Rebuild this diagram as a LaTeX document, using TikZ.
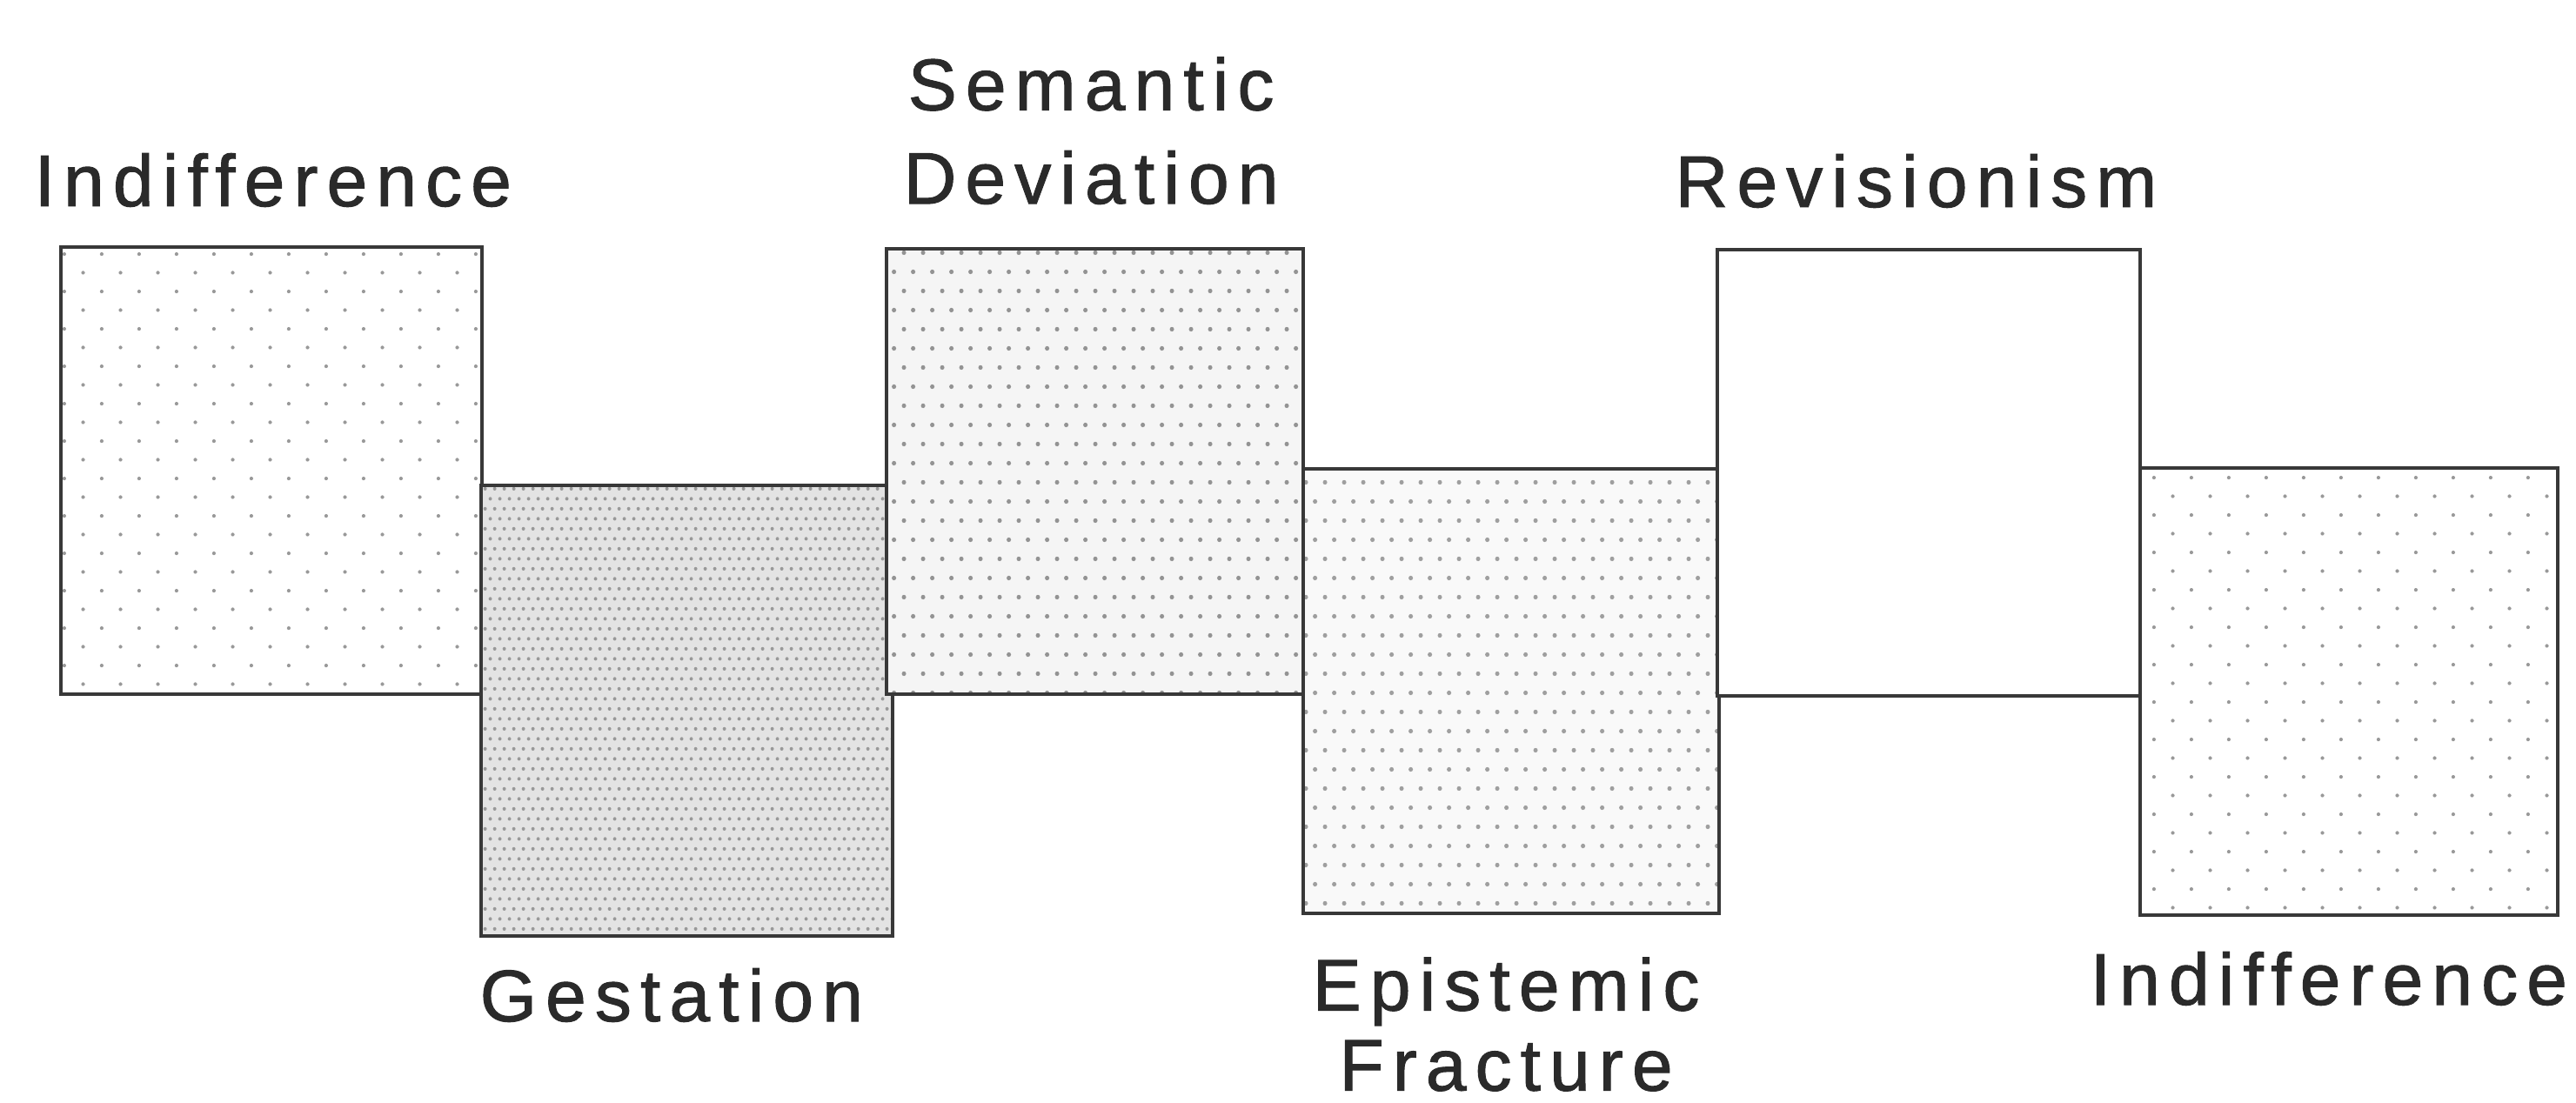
\documentclass[tikz,border=0pt]{standalone}
\usepackage{fontspec}
\newfontfamily\lblfont{Liberation Sans}[LetterSpace=12,FakeBold=1.2]
\usetikzlibrary{patterns}
\pgfdeclarepatternformonly{sparsedots}{\pgfpointorigin}{\pgfpoint{12.2pt}{12.2pt}}{\pgfpoint{12.2pt}{12.2pt}}{%
  \pgfpathcircle{\pgfpoint{3pt}{3pt}}{0.6pt}%
  \pgfpathcircle{\pgfpoint{9.1pt}{9.1pt}}{0.6pt}%
  \pgfusepath{fill}}
\pgfdeclarepatternformonly{mediumdots}{\pgfpointorigin}{\pgfpoint{6.26pt}{12.5pt}}{\pgfpoint{6.26pt}{12.5pt}}{%
  \pgfpathcircle{\pgfpoint{1.5pt}{3pt}}{0.75pt}%
  \pgfpathcircle{\pgfpoint{4.63pt}{9.25pt}}{0.75pt}%
  \pgfusepath{fill}}
\pgfdeclarepatternformonly{densedots}{\pgfpointorigin}{\pgfpoint{3.13pt}{6.54pt}}{\pgfpoint{3.13pt}{6.54pt}}{%
  \pgfpathcircle{\pgfpoint{0.8pt}{1.6pt}}{0.6pt}%
  \pgfpathcircle{\pgfpoint{2.365pt}{4.87pt}}{0.6pt}%
  \pgfusepath{fill}}
\definecolor{edge}{HTML}{383838}
\definecolor{ink}{HTML}{2A2A2A}
\tikzset{
  stage/.style={draw=edge, line width=1.4pt, rectangle, inner sep=0pt, outer sep=0pt},
  sparse/.style={stage, pattern=sparsedots, pattern color=gray!80},
  medium/.style={stage, preaction={fill=gray!8}, pattern=mediumdots, pattern color=gray!85},
  lighter/.style={stage, preaction={fill=gray!5}, pattern=mediumdots, pattern color=gray!75},
  dense/.style={stage, preaction={fill=gray!22}, pattern=densedots, pattern color=gray!80},
  plain/.style={stage, fill=white},
  lbl/.style={font=\lblfont\fontsize{23.9}{30.6}\selectfont, text=ink, inner sep=0pt, align=center},
  tightlbl/.style={lbl, font=\lblfont\fontsize{23.9}{26.2}\selectfont}
}
\begin{document}
\begin{tikzpicture}
\path[use as bounding box, fill=white] (0,0) rectangle (29.61,-12.68);
% boxes
\node[sparse, minimum width=4.84cm, minimum height=5.14cm] (b1) at (3.12,-5.41) {};
\node[dense,  minimum width=4.73cm, minimum height=5.18cm] (b2) at (7.895,-8.17) {};
\node[medium, minimum width=4.79cm, minimum height=5.12cm] (b3) at (12.585,-5.42) {};
\node[lighter,minimum width=4.78cm, minimum height=5.11cm] (b4) at (17.37,-7.945) {};
\node[plain,  minimum width=4.86cm, minimum height=5.13cm] (b5) at (22.17,-5.435) {};
\node[sparse, minimum width=4.80cm, minimum height=5.14cm] (b6) at (27.00,-7.95) {};
% labels
\node[lbl, anchor=base west] (l1) at (0.39,-2.37) {Indifference};
\node[lbl, anchor=base west] (l2) at (5.51,-11.74) {Gestation};
\node[lbl, anchor=north west] (l3) at (10.38,-0.65) {Semantic\\Deviation};
\node[tightlbl, anchor=north west] (l4) at (15.08,-11.00) {Epistemic\\Fracture};
\node[lbl, anchor=base west] (l5) at (19.25,-2.38) {Revisionism};
\node[lbl, anchor=base west] (l6) at (24.02,-11.55) {Indifference};
\end{tikzpicture}
\end{document}
